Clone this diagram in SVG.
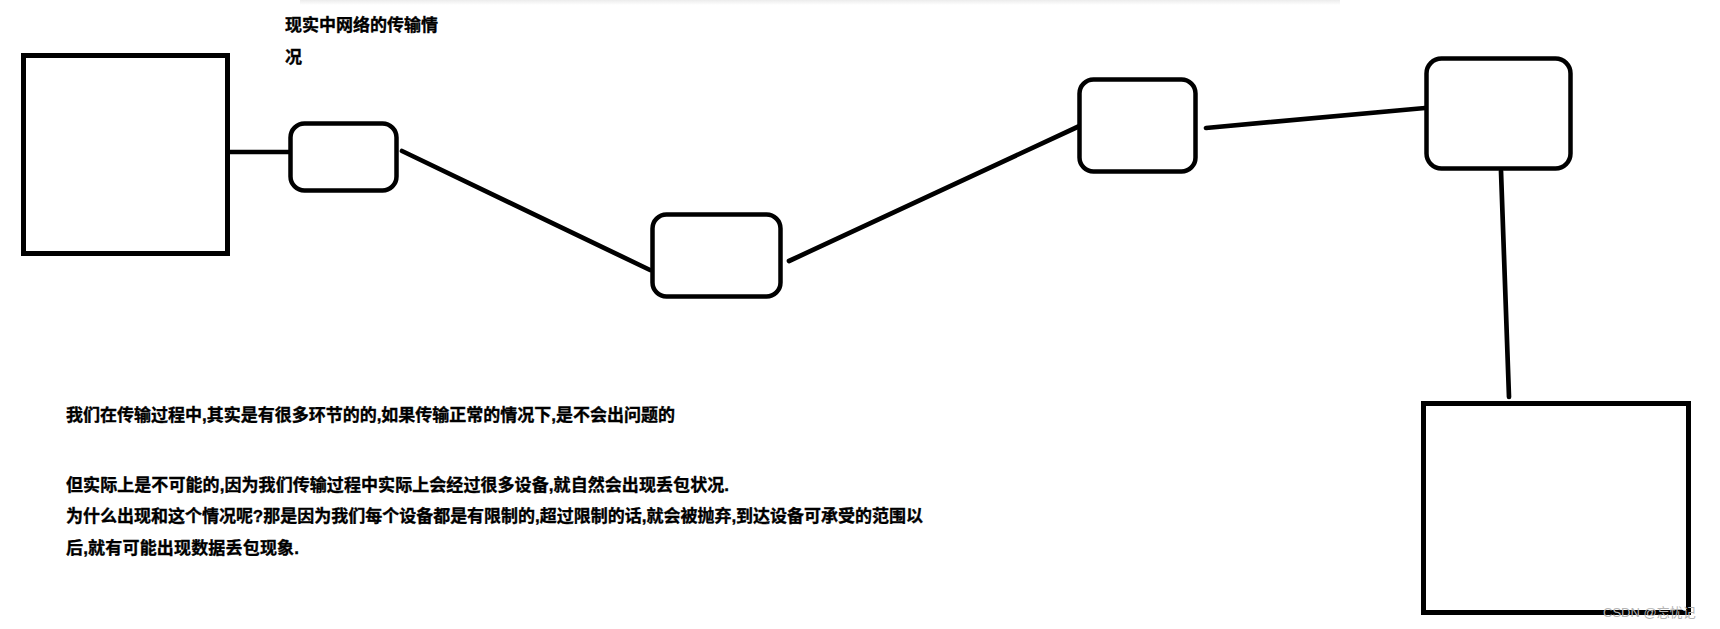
<svg xmlns="http://www.w3.org/2000/svg" width="1720" height="629" viewBox="0 0 1720 629">
  <defs>
    <linearGradient id="topshade" x1="0" y1="0" x2="0" y2="1">
      <stop offset="0" stop-color="#ececec"/>
      <stop offset="1" stop-color="#ffffff"/>
    </linearGradient>
    <style>
      .sq { fill: #ffffff; stroke: #000000; stroke-width: 5; }
      .rr { fill: #ffffff; stroke: #000000; stroke-width: 4.5; }
      .ln { stroke: #000000; stroke-width: 4.7; stroke-linecap: round; fill: none; }
      .txt { font-family: "Liberation Sans", "Noto Sans CJK SC", sans-serif; font-weight: bold; font-size: 17px; fill: #000000; stroke: #000000; stroke-width: 0.35; }
      .wm { font-family: "Liberation Sans", "Noto Sans CJK SC", sans-serif; font-size: 13px; fill: #b4b4b4; }
    </style>
  </defs>
  <rect x="0" y="0" width="1720" height="629" fill="#ffffff"/>
  <rect x="300" y="0" width="1040" height="5" fill="url(#topshade)"/>

  <g id="connectors">
    <line class="ln" x1="228" y1="152" x2="297" y2="152"/>
    <line class="ln" x1="402" y1="151" x2="650" y2="270"/>
    <line class="ln" x1="789" y1="261" x2="1086" y2="123"/>
    <line class="ln" x1="1206" y1="128" x2="1425" y2="108"/>
    <line class="ln" x1="1501" y1="171" x2="1509" y2="397"/>
  </g>

  <g id="host-left">
    <rect class="sq" x="23.5" y="55.5" width="204" height="198"/>
  </g>
  <g id="router-1">
    <rect class="rr" x="290.5" y="123.5" width="106" height="67" rx="14" ry="14"/>
  </g>
  <g id="router-2">
    <rect class="rr" x="652.5" y="214.5" width="128" height="82" rx="14" ry="14"/>
  </g>
  <g id="router-3">
    <rect class="rr" x="1079.5" y="79.5" width="116" height="92" rx="14" ry="14"/>
  </g>
  <g id="router-4">
    <rect class="rr" x="1426.5" y="58.5" width="144" height="110" rx="15" ry="15"/>
  </g>
  <g id="host-right">
    <rect class="sq" x="1423.5" y="403.5" width="265" height="209"/>
  </g>

  <g id="title">
    <text class="txt" x="285" y="31">现实中网络的传输情</text>
    <text class="txt" x="285" y="63">况</text>
  </g>

  <g id="notes">
    <text class="txt" x="66" y="421" textLength="609" lengthAdjust="spacing">我们在传输过程中,其实是有很多环节的的,如果传输正常的情况下,是不会出问题的</text>
    <text class="txt" x="66" y="491" textLength="663" lengthAdjust="spacing">但实际上是不可能的,因为我们传输过程中实际上会经过很多设备,就自然会出现丢包状况.</text>
    <text class="txt" x="66" y="522" textLength="857" lengthAdjust="spacing">为什么出现和这个情况呢?那是因为我们每个设备都是有限制的,超过限制的话,就会被抛弃,到达设备可承受的范围以</text>
    <text class="txt" x="66" y="554" textLength="233" lengthAdjust="spacing">后,就有可能出现数据丢包现象.</text>
  </g>

  <text class="wm" x="1603" y="617">CSDN @忘忧记</text>
</svg>
